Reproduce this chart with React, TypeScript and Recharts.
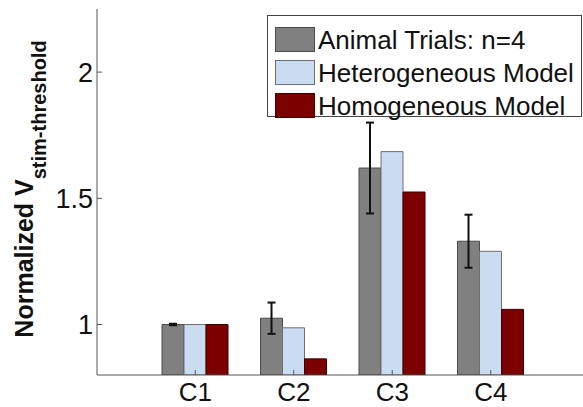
import React from 'react';
import { BarChart, Bar, XAxis, YAxis, Legend, ErrorBar } from 'recharts';

const categories = ['C1', 'C2', 'C3', 'C4'];
const animalTrials = [1.0, 1.025, 1.62, 1.33];
const animalTrialsErr = [0.003, 0.062, 0.18, 0.105];
const heterogeneousModel = [1.0, 0.987, 1.685, 1.29];
const homogeneousModel = [1.0, 0.864, 1.525, 1.06];
const yTicks = [1, 1.5, 2];

const seriesNames = ['Animal Trials: n=4', 'Heterogeneous Model', 'Homogeneous Model'];
const seriesColors = ['#808080', '#cadcf2', '#7d0000'];
const seriesStrokes = ['#4a4a4a', '#6f6f6f', '#3a0000'];

const FONT = '"Liberation Sans", Arial, sans-serif';
const AXIS_COLOR = '#555';

const chartData = categories.map((name, i) => ({
  name,
  animal: animalTrials[i],
  animalErr: animalTrialsErr[i],
  hetero: heterogeneousModel[i],
  homo: homogeneousModel[i],
}));

// MATLAB-style ticks point into the plot box
const BottomTick = (props: any) => {
  const { x, y, payload } = props;
  return (
    <g>
      <line x1={x} y1={y} x2={x} y2={y - 5} stroke={AXIS_COLOR} strokeWidth={1} />
      <text x={x} y={y + 26} textAnchor="middle" fontSize={26} fontFamily={FONT} fill="#111">
        {payload.value}
      </text>
    </g>
  );
};

const TopTick = (props: any) => {
  const { x, y } = props;
  return <line x1={x} y1={y} x2={x} y2={y + 5} stroke={AXIS_COLOR} strokeWidth={1} />;
};

const LeftTick = (props: any) => {
  const { x, y, payload } = props;
  return (
    <g>
      <line x1={x} y1={y} x2={x + 5} y2={y} stroke={AXIS_COLOR} strokeWidth={1} />
      <text x={x - 4} y={y} dy="0.36em" textAnchor="end" fontSize={27} fontFamily={FONT} fill="#111">
        {payload.value}
      </text>
    </g>
  );
};

const YLabel = (props: any) => {
  const vb = props.viewBox || { y: 9, height: 366 };
  const cx = 33;
  const cy = vb.y + vb.height / 2 - 3;
  return (
    <text
      x={cx}
      y={cy}
      transform={`rotate(-90, ${cx}, ${cy})`}
      textAnchor="middle"
      fontFamily={FONT}
      fontWeight="bold"
      fill="#111"
    >
      <tspan fontSize={25}>Normalized V</tspan>
      <tspan fontSize={20} dy={13}>stim-threshold</tspan>
    </text>
  );
};

const renderLegend = () => (
  <div
    style={{
      boxSizing: 'border-box',
      width: 315,
      height: 102,
      border: '1px solid #444',
      background: '#fff',
      padding: '7px 0 0 7px',
      fontFamily: FONT,
      fontSize: 26,
      color: '#111',
    }}
  >
    {seriesNames.map((name, i) => (
      <div key={name} style={{ display: 'flex', alignItems: 'center', height: 33 }}>
        <span
          style={{
            display: 'inline-block',
            boxSizing: 'border-box',
            width: 40,
            height: 25,
            background: seriesColors[i],
            border: `1px solid ${seriesStrokes[i]}`,
            marginRight: 3,
          }}
        />
        <span style={{ whiteSpace: 'nowrap', lineHeight: '26px' }}>{name}</span>
      </div>
    ))}
  </div>
);

export default function App() {
  return (
    <div
      style={{
        position: 'absolute',
        left: 0,
        top: 0,
        width: 583,
        height: 407,
        overflow: 'hidden',
        background: '#fff',
      }}
    >
      <BarChart
        width={600}
        height={407}
        data={chartData}
        margin={{ top: 9, right: 11, bottom: 0, left: 0 }}
        barSize={22}
        barGap={0}
      >
        <XAxis
          dataKey="name"
          height={32}
          padding={{ left: 49, right: 49 }}
          tickSize={0}
          tickMargin={0}
          tickLine={false}
          axisLine={{ stroke: AXIS_COLOR, strokeWidth: 1 }}
          tick={<BottomTick />}
          interval={0}
        />
        <XAxis
          xAxisId="top"
          dataKey="name"
          orientation="top"
          height={0}
          padding={{ left: 49, right: 49 }}
          tickSize={0}
          tickMargin={0}
          tickLine={false}
          axisLine={{ stroke: AXIS_COLOR, strokeWidth: 1 }}
          tick={<TopTick />}
          interval={0}
        />
        <YAxis
          width={97}
          domain={[0.8, 2.25]}
          ticks={yTicks}
          allowDataOverflow
          tickSize={0}
          tickMargin={0}
          tickLine={false}
          axisLine={{ stroke: AXIS_COLOR, strokeWidth: 1 }}
          tick={<LeftTick />}
          label={{ content: <YLabel /> }}
        />
        <Legend
          layout="horizontal"
          verticalAlign="middle"
          align="center"
          content={renderLegend}
          wrapperStyle={{ top: 15, left: 267, width: 315, height: 102 }}
        />
        <Bar
          dataKey="animal"
          name={seriesNames[0]}
          fill={seriesColors[0]}
          stroke={seriesStrokes[0]}
          strokeWidth={1}
          isAnimationActive={false}
        >
          <ErrorBar dataKey="animalErr" width={4} stroke="#111" strokeWidth={2} direction="y" />
        </Bar>
        <Bar
          dataKey="hetero"
          name={seriesNames[1]}
          fill={seriesColors[1]}
          stroke={seriesStrokes[1]}
          strokeWidth={1}
          isAnimationActive={false}
        />
        <Bar
          dataKey="homo"
          name={seriesNames[2]}
          fill={seriesColors[2]}
          stroke={seriesStrokes[2]}
          strokeWidth={1}
          isAnimationActive={false}
        />
      </BarChart>
    </div>
  );
}
